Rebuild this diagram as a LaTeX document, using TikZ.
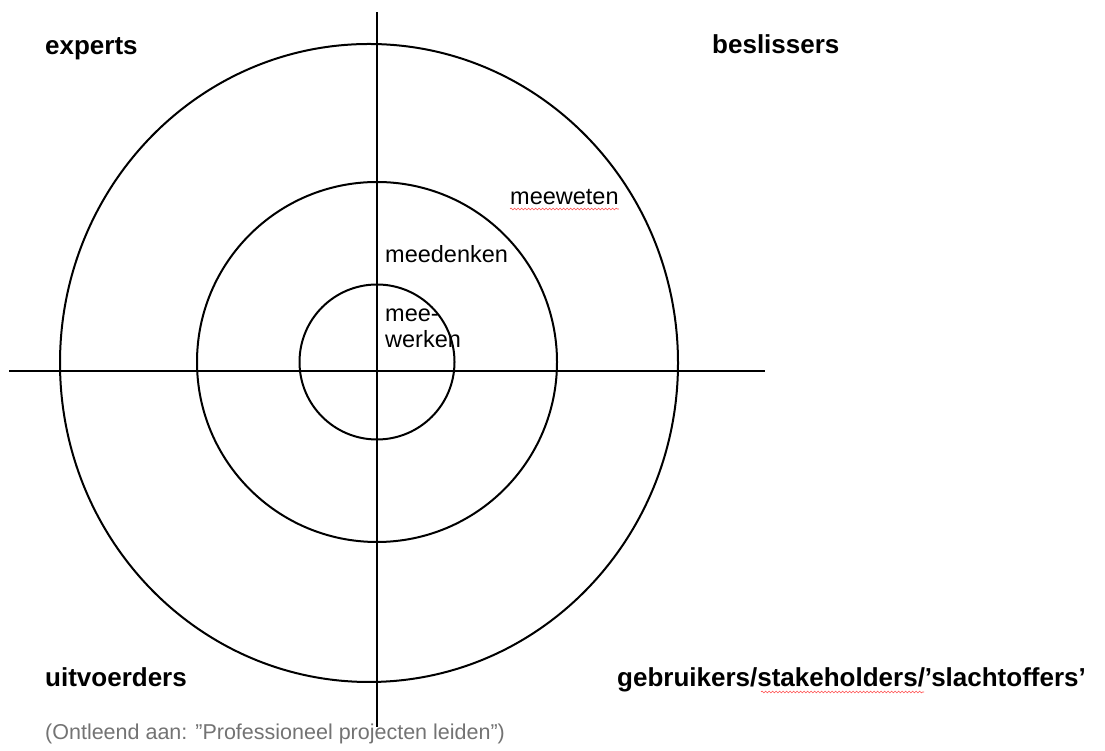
\documentclass[tikz,border=0pt]{standalone}
\usepackage{fontspec}
\setmainfont{Liberation Sans}
\usetikzlibrary{decorations.pathmorphing}

\begin{document}
\begin{tikzpicture}[x=1pt, y=1pt,
        ring/.style={line width=2pt},
        axis/.style={line width=2pt},
        group/.style={anchor=base west, inner sep=0pt, font=\fontsize{26}{30}\selectfont\bfseries},
        level/.style={anchor=base west, inner sep=0pt, font=\fontsize{23.5}{26}\selectfont},
        squiggle/.style={red!70, line width=0.6pt, decorate, decoration={snake, amplitude=0.9pt, segment length=3.5pt}}]
        \useasboundingbox (0,0) rectangle (1105,751);
        % axes
        \draw[axis] (377,24) -- (377,739);
        \draw[axis] (9,380) -- (765,380);
        % rings
        \draw[ring] (369,388) ellipse [x radius=309, y radius=319];
        \draw[ring] (377,389) circle [radius=180];
        \draw[ring] (377,389) circle [radius=77.5];
        % quadrants
        \node[group] (experts) at (45,696) {experts};
        \node[group] (beslissers) at (712,697) {beslissers};
        \node[group] (uitvoerders) at (45,64) {uitvoerders};
        \node[group] (gebruikers) at (617,64) {gebruikers/stakeholders/'slachtoffers'};
        % levels
        \node[level] (meeweten) at (510,546) {meeweten};
        \node[level] (meedenken) at (385,488) {meedenken};
        \node[level] (mee) at (385,429) {mee-};
        \node[level] (werken) at (385,403) {werken};
        % source
        \node[anchor=base west, inner sep=0pt, text=black!55, font=\fontsize{21.5}{24}\selectfont] (bron) at (45,11)
                {(Ontleend aan: "Professioneel projecten leiden")};
        % spelling marks
        \draw[squiggle] ([yshift=-4pt]meeweten.base west) -- ([yshift=-4pt]meeweten.base east);
        \draw[squiggle] (761,59) -- (924,59);
\end{tikzpicture}
\end{document}
